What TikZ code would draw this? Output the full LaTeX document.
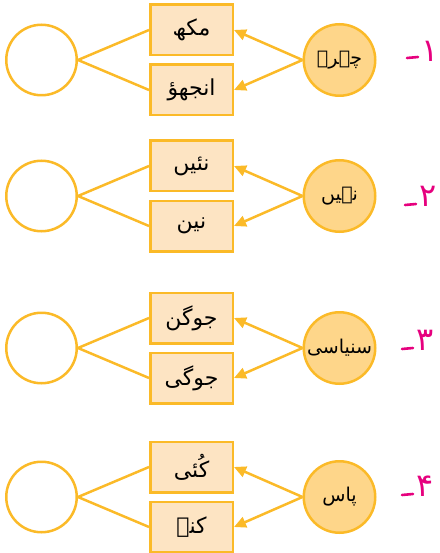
\documentclass[tikz,border=0pt]{standalone}
\usepackage{fontspec}
\usetikzlibrary{arrows.meta}
\TeXXeTstate=1
\newfontfamily\arabicfont[Script=Arabic]{DejaVu Sans}
\definecolor{ystroke}{RGB}{251,186,40}
\definecolor{boxfill}{RGB}{253,228,195}
\definecolor{circfill}{RGB}{254,214,138}
\definecolor{numcol}{RGB}{230,0,126}
\tikzset{
  wordbox/.style={draw=ystroke, line width=2.5pt, fill=boxfill, minimum width=82.5pt, minimum height=50.5pt, inner sep=0pt, font=\arabicfont\fontsize{22}{26}\selectfont},
  srccirc/.style={circle, draw=ystroke, line width=2.5pt, fill=circfill, minimum size=71.5pt, inner sep=0pt, font=\arabicfont\fontsize{19}{22}\selectfont},
  emptycirc/.style={circle, draw=ystroke, line width=2.5pt, fill=white, minimum size=70.5pt, inner sep=0pt},
  numlabel/.style={text=numcol, font=\arabicfont\fontsize{32}{34}\selectfont, inner sep=0pt},
  stopmark/.style={draw=numcol, line width=2.6pt, line cap=round},
  conn/.style={draw=ystroke, line width=2.5pt},
  arr/.style={draw=ystroke, line width=2.5pt, -{Triangle[length=12pt,width=11pt]}}
}
\newcommand\urdurow[9]{%
  \node[emptycirc] (L#1) at (41.5,#2) {};
  \node[wordbox] (T#1) at (191.5,#2-30) {\beginR #4\endR};
  \node[wordbox] (B#1) at (191.5,#2+30) {\beginR #5\endR};
  \node[srccirc] (R#1) at (339.5,#2) {\beginR #3\endR};
  \node[numlabel] (N#1) at (#7,#8) {#6};
  \path[stopmark] (#7-23,#9) -- (#7-12,#9-1);
  \draw[conn] (L#1.east) -- (T#1.west);
  \draw[conn] (L#1.east) -- (B#1.west);
  \draw[arr] (R#1.west) -- (T#1.east);
  \draw[arr] (R#1.west) -- (B#1.east);
}
\begin{document}
\begin{tikzpicture}[x=1pt,y=-1pt]
\useasboundingbox (0,0) rectangle (439,553);
\urdurow{1}{60}{چہرہ}{مکھ}{انجھؤ}{۱}{430}{51}{58}
\urdurow{2}{196}{نہیں}{نئیں}{نین}{۲}{428}{196}{205}
\urdurow{3}{348}{سنیاسی}{جوگن}{جوگی}{۳}{425}{340}{349}
\urdurow{4}{497}{پاس}{کُئی}{کنے}{۴}{425}{486}{495}
\end{tikzpicture}
\end{document}
